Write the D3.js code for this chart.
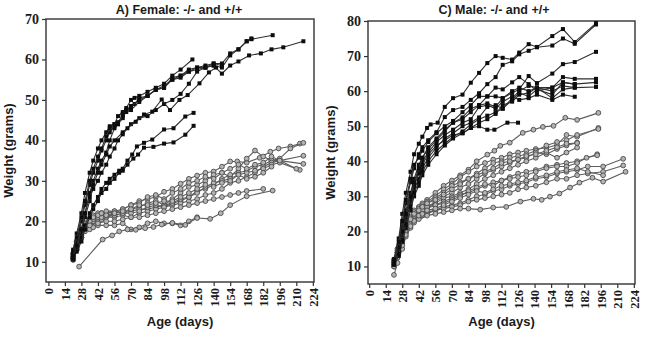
<!DOCTYPE html>
<html>
<head>
<meta charset="utf-8">
<script src="https://cdn.jsdelivr.net/npm/d3@7"></script>
<style>
  body { margin: 0; background: #fff; }
  svg { display: block; }
  .num { font-family: "Times New Roman", "Liberation Serif", "DejaVu Serif", serif; font-weight: bold; }
</style>
</head>
<body>
<svg id="chart" width="650" height="337"></svg>
<script>
// ages (days) and body weights (grams); each animal is a list of [day, grams]
var ageTicks = [0, 14, 28, 42, 56, 70, 84, 98, 112, 126, 140, 154, 168, 182, 196, 210, 224];
var femaleWeightTicks = [10, 20, 30, 40, 50, 60, 70];
var maleWeightTicks = [10, 20, 30, 40, 50, 60, 70, 80];

// A) female -/-
var femaleKO = [
  [[21,12],[24,15],[28,20],[31,24],[35,29],[38,32],[42,35],[45,37.5],[49,40],[52,42],[56,43.5],[59,44],[63,45.5],[66,47.5],[70,48],[73,49],[77,50.5],[84,51],[91,52.5],[98,53],[105,55.5],[112,56],[119,57.5],[126,58],[133,58.5],[140,59],[147,59],[154,61.5],[161,62.5],[168,64.5],[172,65],[190,66]],
  [[21,13],[24,17],[28,22],[31,27],[35,32],[38,35],[42,38],[45,40],[49,42],[52,43.5],[56,44],[59,46],[63,47],[66,48],[70,50],[73,50.5],[77,51],[84,52],[91,53],[98,54],[105,56],[112,57.5],[122,60]],
  [[21,12],[24,14],[28,18],[31,22],[35,27],[38,30],[42,33],[45,35],[49,37],[52,40],[56,43],[59,44],[63,46.5],[66,47.5],[70,48.5],[77,50],[84,51],[91,52.5],[98,53.5],[105,55],[112,56],[119,57],[126,58],[133,58],[140,58.5],[147,56.5],[154,58.5],[161,59.5],[170,61],[180,61.5],[189,62.5],[199,63],[216,64.5]],
  [[21,11],[24,13],[28,17],[31,21],[35,25],[38,29],[42,32],[45,34],[49,36.5],[52,38.5],[56,40],[63,42],[70,44],[77,45.5],[84,46],[91,47.5],[98,49],[105,50],[112,51.5],[119,54],[126,57],[133,58],[140,58.5],[147,58],[154,61],[161,62.5],[168,64.5],[172,65.2]],
  [[21,11],[24,13],[28,16],[31,19],[35,22],[38,24],[42,26],[45,28],[49,29.5],[52,30.5],[56,31.5],[60,32.5],[63,33],[67,35],[71,36.5],[75,38.5],[81,39.4],[88,40.2],[98,42.7],[106,43],[116,45.9],[123,46.8]],
  [[21,10.5],[24,12.5],[28,15],[31,18],[35,21],[38,23],[42,25],[45,27],[49,28],[52,29.5],[56,30.5],[60,32],[63,32.5],[67,34],[72,35.5],[76,36.5],[81,38.2],[89,38.4],[98,39.2],[106,39.5],[116,41.4],[123,43.6]],
  [[21,12.5],[24,16],[28,21],[31,25],[35,30],[38,33],[42,36],[45,38],[49,41],[52,43],[56,44],[59,44.5],[63,46],[66,47],[70,47.5],[77,49.5],[84,51],[91,52.5],[98,53],[105,55],[112,55.5],[119,57],[126,57.5],[133,58],[140,59],[147,58.5]],
  [[21,11.5],[24,14],[28,18],[31,22],[35,26],[38,28],[42,30],[45,32],[49,34],[52,36],[56,38],[59,40],[63,41.5],[67,43],[74,44.6],[81,46.4],[88,47.1],[96,50.1],[103,47.5],[111,50],[118,51.2],[128,54.1],[136,56.8],[142,58]]
];

// A) female +/+
var femaleWT = [
  [[21,11],[24,14],[28,17],[31,19],[35,20],[38,21],[42,21.5],[45,22],[49,22],[52,22],[56,22.5],[63,23],[70,24],[77,25],[84,25.5],[91,26],[98,27.3],[105,28],[112,29.3],[119,30.5],[126,31.3],[133,32],[140,32.3],[147,33.5],[154,34.8],[160,34.8],[168,34.5],[179,35.7],[188,37.2],[195,38],[205,38.5],[213,39.2]],
  [[21,12],[24,15],[28,18],[31,19.5],[35,20.5],[38,21],[42,21],[45,21.5],[49,22],[56,22.5],[63,22],[70,23],[77,23.5],[84,24.5],[91,25],[98,24],[105,25.5],[112,27],[119,28.5],[126,29],[133,30],[140,31.5],[147,32],[154,31],[161,33],[168,35.5],[175,37.5],[182,36],[189,35],[196,35.5],[205,38],[216,39.4]],
  [[21,10.5],[24,13.5],[28,16.5],[31,18.5],[35,19.5],[38,20],[42,20.5],[45,21],[49,21],[56,21.5],[63,22],[70,22.5],[77,23],[84,23],[91,23.5],[98,24],[105,24.5],[112,25],[119,26],[126,27.5],[133,28],[140,29],[147,30.5],[154,31.5],[161,32],[168,32.5],[175,33.5],[182,34],[189,35],[196,35],[216,36.2]],
  [[21,11],[24,13],[28,16],[31,18],[35,19.5],[38,20],[42,20.5],[45,20.5],[49,21],[56,21],[63,21.5],[70,21],[77,22],[84,22.5],[91,23],[98,23.5],[105,24],[112,24.5],[119,25],[126,25.5],[133,26.5],[140,27],[147,28],[154,29.5],[161,30],[168,31],[175,32],[182,33.5],[189,34.5],[196,35],[216,34.2]],
  [[21,11.5],[24,14],[28,17],[31,19],[35,20],[38,20.5],[42,21],[45,21],[49,21.5],[56,21.5],[63,22],[70,22],[77,22.5],[84,23.5],[91,24],[98,23.5],[105,24.5],[112,25.5],[119,26],[126,27],[133,28.5],[140,29.5],[147,30],[154,30.5],[161,31.5],[168,32],[175,32.5],[182,33],[189,34],[196,34.5],[213,32.7]],
  [[21,10.5],[24,13],[28,16],[31,17.5],[35,18],[38,18.5],[42,19],[49,19],[56,19],[63,19.5],[70,18],[77,18.5],[84,19.5],[91,20],[98,19.5],[105,19.5],[112,19],[119,20],[126,21]],
  [[26,8.8],[46,15.5],[54,16.5],[60,17.5],[67,18],[74,17.9],[82,18.3],[89,18.6],[96,19.2],[105,19.6],[116,19.1],[126,20.8],[137,20.6],[146,22],[154,24],[168,26.2],[190,27.6]],
  [[21,11],[24,14],[28,17.5],[31,19],[35,20.5],[38,21.5],[42,22],[45,22],[49,22.5],[56,22],[63,23],[70,24],[77,24.5],[84,26],[91,26.5],[98,25.5],[105,27],[112,28],[119,29.5],[126,30],[133,31],[140,30.5],[147,32],[154,33],[161,34],[168,33],[175,34],[182,34.5],[189,36],[196,35],[210,33]],
  [[21,12],[24,15],[28,18],[31,19.5],[35,20],[38,21],[42,21.5],[45,22],[49,21.5],[56,22],[63,22.5],[70,23],[77,24],[84,24],[91,24.5],[98,25],[105,25],[112,26],[119,27],[126,28],[133,29],[140,28.5],[147,29.5],[154,30],[161,31.5],[168,30.5],[175,31],[182,32],[189,33.5]],
  [[21,11],[24,13.5],[28,16],[31,18],[35,19],[42,19.5],[49,20],[56,20],[63,20.5],[70,21],[77,21],[84,21.5],[91,22],[98,22.5],[105,23],[112,23.5],[119,24],[126,24.5],[133,25],[140,25.5],[147,26],[154,26.5],[161,27],[168,27.5],[182,28]]
];

// C) male -/-
var maleKO = [
  [[21,12],[25,18],[28,25],[31,31],[35,37],[38,42],[42,45],[45,47],[49,49.5],[52,50.5],[58,51],[64,55.5],[71,58],[79,59],[86,62.4],[93,65.2],[100,68],[107,70],[113,69.5],[121,69],[127,71],[135,73.4],[142,72.6],[155,75.7],[164,77.7],[174,74],[192,79.4]],
  [[21,11],[25,16],[28,22],[31,28],[35,34],[38,38],[42,42],[45,44],[50,46],[57,48.3],[64,52.6],[71,54.6],[79,55.5],[86,57.5],[93,59.4],[100,62],[107,64],[113,67.5],[121,68.5],[127,70.5],[135,71.5],[142,72.5],[155,73],[164,75],[174,73.5],[192,79]],
  [[21,11.5],[25,15],[28,20],[31,26],[35,31],[38,35],[42,39],[45,41],[50,44],[57,46.5],[64,49],[71,51],[79,52.5],[86,55],[93,56],[100,58.5],[107,58.5],[113,58],[121,59.5],[127,60.5],[135,64.3],[142,62.3],[155,65],[164,67.7],[174,68.3],[192,71.2]],
  [[21,11],[25,14],[28,18],[31,23],[35,28],[38,32],[42,35],[45,38],[50,41],[57,44],[64,46.5],[71,48],[79,50],[86,51],[93,52.5],[100,55.5],[107,56],[113,55],[121,58],[127,60],[135,61.5],[142,61],[155,61],[164,64],[174,63.5],[192,63.5]],
  [[21,10.5],[25,13],[28,17],[31,21],[35,26],[38,30],[42,33],[45,36],[50,39],[57,42],[64,44.5],[71,46.5],[79,48],[86,49.5],[93,51],[100,52],[107,53.5],[113,56],[121,57],[127,59],[135,59.5],[142,61],[155,60],[164,61.5],[174,61],[192,61.2]],
  [[21,12],[25,16],[28,21],[31,25],[35,30],[38,34],[42,37],[45,40],[50,42.5],[57,45.5],[64,47.5],[71,49],[79,51],[86,52],[93,55.5],[100,56],[107,55],[113,57],[121,58.5],[127,57.5],[135,58],[142,59],[155,57.5],[164,59],[174,58.4]],
  [[21,11],[25,14.5],[28,19],[31,24],[35,29],[38,33],[42,36.5],[45,39],[50,42],[57,44.5],[64,46],[71,47.5],[79,48],[86,49.5],[93,50],[100,49],[106,49],[117,51],[126,51]],
  [[21,10.5],[25,13.5],[28,17.5],[31,22],[35,27],[38,31],[42,34],[45,37],[50,40],[57,43],[64,45],[71,47],[79,48.5],[86,50.5],[93,52],[100,53],[107,54],[113,55],[121,57.5],[127,59.5],[135,58.5],[142,60.5],[155,59],[164,62.5],[174,62],[192,62.5]],
  [[21,11.5],[25,15.5],[28,20],[31,25],[35,30],[38,34],[42,38],[45,41],[50,43.5],[57,46],[64,48.5],[71,51],[79,52],[86,54],[93,56],[100,56.5],[107,55.5],[113,58],[121,60],[127,61],[135,60],[142,61],[155,58],[164,60.5],[174,61]],
  [[21,12],[25,17],[28,23],[31,29],[35,35],[38,39],[42,41],[45,43],[50,45.5],[57,48],[64,50],[71,51.5],[79,54],[86,56],[93,58.5],[100,58.5],[107,61],[113,60.5],[121,62.5],[127,64],[135,62],[142,60],[155,61],[164,62.5],[174,62]]
];

// C) male +/+
var maleWT = [
  [[21,11],[24,15],[28,19],[31,22],[35,24],[38,26],[42,27],[45,28],[49,29],[56,31],[63,33],[70,34.5],[77,36],[84,37.6],[91,40],[100,41.9],[106,43],[111,44.4],[119,45.3],[130,48.1],[139,49],[147,49.8],[156,50.1],[166,52.4],[176,51.8],[194,53.8]],
  [[21,10.5],[24,14],[28,18],[31,21],[35,23.5],[38,25],[42,26.5],[45,27.5],[49,28.5],[56,30],[63,32],[70,33.5],[77,35.5],[84,37],[91,38.5],[98,39.5],[105,40.5],[112,41],[119,42],[126,42.5],[133,43],[141,43.5],[150,43.8],[159,44.7],[167,47.5],[176,47],[194,49.5]],
  [[21,11.5],[24,14.5],[28,18.5],[31,21.5],[35,24],[38,25.5],[42,26.5],[45,27],[49,28],[56,29.5],[63,31],[70,33],[77,34],[84,35],[91,36.5],[98,38],[105,39.5],[112,40],[119,41],[126,41.5],[133,42],[141,43],[150,44.5],[159,45.5],[167,46],[176,47.5],[194,49.2]],
  [[21,10],[24,13],[28,17],[31,20],[35,22.5],[38,24],[42,25.5],[45,26.5],[49,27],[56,28.5],[63,30],[70,31],[77,32.5],[84,33.5],[91,35],[98,36.5],[105,37.5],[112,38.5],[119,39.5],[126,40.5],[133,41],[141,42.5],[150,42],[159,43.5],[167,44.5],[176,45.3]],
  [[21,11],[24,14],[28,18],[31,21],[35,23],[38,24.5],[42,25.5],[45,26],[49,27],[56,28],[63,29.5],[70,30],[77,31],[84,32],[91,33.5],[98,35],[105,36],[112,37],[119,38],[126,39],[133,40],[141,41],[150,42.5],[159,41],[167,42.5],[176,43.9]],
  [[21,10.5],[24,13.5],[28,17.5],[31,20.5],[35,22.5],[38,24],[42,25],[45,26],[49,26.5],[56,27.5],[63,28.5],[70,29.5],[77,30.5],[84,31],[91,32],[98,33],[105,34],[112,34.5],[119,35.5],[126,36.5],[133,37],[141,37.5],[150,38.5],[159,39],[167,39.5],[176,40],[193,42]],
  [[21,12],[24,15],[28,18.5],[31,21],[35,23],[38,24.5],[42,25.5],[45,26],[49,27],[56,27.5],[63,28],[70,29],[77,30],[84,31.5],[91,32.5],[98,33.5],[105,33],[112,34.5],[119,35],[126,35.5],[133,36],[141,37],[150,38],[159,38.5],[167,38.5],[176,39.5],[184,41],[193,41.7]],
  [[21,10],[24,13],[28,16.5],[31,19.5],[35,22],[38,23.5],[42,24.5],[45,25],[49,25.5],[56,26],[63,27],[70,27.5],[77,28],[84,29],[91,30],[98,30.5],[105,31.5],[112,32],[119,33],[126,33.5],[133,34],[141,35],[150,35.5],[159,36.5],[167,37],[176,37.5],[185,38.5],[198,38.5],[215,40.7]],
  [[21,11],[24,14],[28,17.5],[31,20],[35,22],[38,23],[42,24],[45,24.5],[49,25],[56,26],[63,26.5],[70,27],[77,27.5],[84,28.5],[91,29],[98,29.5],[105,30],[112,30.5],[119,31],[126,32],[133,32.5],[141,33],[150,34],[159,35],[167,35],[176,36],[185,36.5],[198,37],[215,38.8]],
  [[21,7.6],[24,11],[28,15],[31,18.5],[35,21],[38,22.5],[42,23.5],[49,24.5],[56,25],[63,25.5],[70,26],[77,26.5],[84,26.5],[94,26.2],[105,26.8],[116,27],[128,28.5],[139,29.3],[146,29],[153,29.9],[161,30.8],[170,32.5],[178,33.9],[189,35.3],[198,34.2],[217,37]],
  [[21,10],[24,12.5],[28,16],[31,19],[35,21.5],[38,23],[42,24.5],[45,25],[49,26],[56,26.5],[63,27.5],[70,28.5],[77,29.5],[84,30.5],[91,31.5],[98,31],[105,32],[112,33],[119,33.5],[126,34],[133,34.5],[141,35.5],[150,36],[159,37],[167,37.5],[176,38],[185,37],[198,36]],
  [[21,11],[24,14],[28,18],[31,21],[35,23.5],[38,25],[42,26],[45,27],[49,28],[56,29],[63,30.5],[70,32],[77,33.5],[84,35],[91,36],[98,37],[105,38],[112,39.5],[119,40],[126,40.5],[133,41.5],[141,42],[150,43],[159,44],[167,45],[176,45.2]]
];

var sans = '"Liberation Sans", Arial, sans-serif';

var svg = d3.select("#chart");

function drawPanel(p) {
  var x = d3.scaleLinear().domain(p.xDomain).range([p.left, p.right]);
  var y = d3.scaleLinear().domain(p.yDomain).range([p.bottom, p.top]);
  var g = svg.append("g");

  // y axis
  var ya = g.append("g")
      .attr("transform", "translate(" + p.left + ",0)")
      .call(d3.axisLeft(y).tickValues(p.yTicks).tickSize(4).tickPadding(3))
      .attr("font-family", null)
      .attr("font-size", null);
  ya.select(".domain").remove();
  ya.selectAll(".tick line").attr("stroke", "#333").attr("stroke-width", 1.2);
  ya.selectAll(".tick text")
      .attr("class", "num")
      .attr("font-size", 14)
      .attr("fill", "#1a1a1a");

  // x axis, labels turned on their side
  var xa = g.append("g")
      .attr("transform", "translate(0," + p.bottom + ")")
      .call(d3.axisBottom(x).tickValues(ageTicks).tickSize(4))
      .attr("font-family", null)
      .attr("font-size", null);
  xa.select(".domain").remove();
  xa.selectAll(".tick line").attr("stroke", "#333").attr("stroke-width", 1.2);
  xa.selectAll(".tick text")
      .attr("class", "num")
      .attr("font-size", 12.5)
      .attr("text-anchor", "end")
      .attr("fill", "#1a1a1a")
      .attr("transform", "rotate(-90)")
      .attr("x", -6)
      .attr("y", 0)
      .attr("dy", "0.35em");

  // frame
  g.append("rect")
      .attr("x", p.left).attr("y", p.top)
      .attr("width", p.right - p.left).attr("height", p.bottom - p.top)
      .attr("fill", "none").attr("stroke", "#333").attr("stroke-width", 1.4);

  var line = d3.line()
      .x(function(d) { return x(d[0]); })
      .y(function(d) { return y(d[1]); });

  // +/+ animals: grey circles
  p.wt.forEach(function(s) {
    g.append("path").datum(s)
        .attr("d", line)
        .attr("fill", "none").attr("stroke", "#5e5e5e").attr("stroke-width", 1.1);
    g.selectAll(null).data(s).enter().append("circle")
        .attr("cx", function(d) { return x(d[0]); })
        .attr("cy", function(d) { return y(d[1]); })
        .attr("r", 2.4)
        .attr("fill", "#b4b4b4").attr("stroke", "#4a4a4a").attr("stroke-width", 0.9);
  });

  // -/- animals: black squares
  p.ko.forEach(function(s) {
    g.append("path").datum(s)
        .attr("d", line)
        .attr("fill", "none").attr("stroke", "#2e2e2e").attr("stroke-width", 1.1);
    g.selectAll(null).data(s).enter().append("rect")
        .attr("x", function(d) { return x(d[0]) - 2; })
        .attr("y", function(d) { return y(d[1]) - 2; })
        .attr("width", 4).attr("height", 4)
        .attr("fill", "#0d0d0d");
  });

  g.append("text")
      .attr("x", p.titleX).attr("y", 14)
      .attr("text-anchor", "middle")
      .style("font-family", sans).style("font-weight", "bold").style("font-size", "12.5px")
      .attr("fill", "#1a1a1a")
      .text(p.title);

  g.append("text")
      .attr("x", (p.left + p.right) / 2).attr("y", 326)
      .attr("text-anchor", "middle")
      .style("font-family", sans).style("font-weight", "bold").style("font-size", "13px")
      .attr("fill", "#1a1a1a")
      .text("Age (days)");

  g.append("text")
      .attr("transform", "translate(" + p.yTitleX + "," + ((p.top + p.bottom) / 2) + ") rotate(-90)")
      .attr("text-anchor", "middle")
      .attr("dy", "0.35em")
      .style("font-family", sans).style("font-weight", "bold").style("font-size", "13px")
      .attr("fill", "#1a1a1a")
      .text("Weight (grams)");
}

drawPanel({
  title: "A) Female: -/- and +/+", titleX: 179, yTitleX: 8,
  left: 46, right: 314, top: 19, bottom: 282,
  xDomain: [-2, 225], yDomain: [5, 70], yTicks: femaleWeightTicks,
  ko: femaleKO, wt: femaleWT
});

drawPanel({
  title: "C) Male: -/- and +/+", titleX: 494, yTitleX: 330,
  left: 368, right: 635, top: 21, bottom: 284,
  xDomain: [-1, 225], yDomain: [5, 80], yTicks: maleWeightTicks,
  ko: maleKO, wt: maleWT
});
</script>
</body>
</html>
